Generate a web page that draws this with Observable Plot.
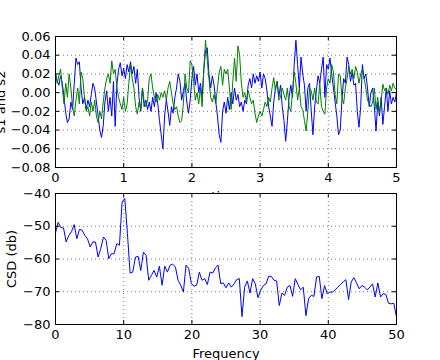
<!DOCTYPE html>
<html>
<head>
<meta charset="utf-8">
<script src="https://cdn.jsdelivr.net/npm/d3@7"></script>
<script src="https://cdn.jsdelivr.net/npm/@observablehq/plot@0.6"></script>
<style>
  html, body { margin: 0; padding: 0; background: white; }
  #chart { position: relative; width: 440px; height: 360px; background: white; }
  #chart svg { position: absolute; left: 0; top: 0; }
</style>
</head>
<body>
<div id="chart"></div>
<script>
// ---- Top panel: time signals s1 (blue) and s2 (green) ----
const time = [0.000,0.025,0.050,0.075,0.100,0.125,0.150,0.175,0.200,0.225,0.250,0.275,0.300,0.325,0.350,0.375,0.400,0.425,0.450,0.475,0.500,0.525,0.550,0.575,0.600,0.625,0.650,0.675,0.700,0.725,0.750,0.775,0.800,0.825,0.850,0.875,0.900,0.925,0.950,0.975,1.000,1.025,1.050,1.075,1.100,1.125,1.150,1.175,1.200,1.225,1.250,1.275,1.300,1.325,1.350,1.375,1.400,1.425,1.450,1.475,1.500,1.525,1.550,1.575,1.600,1.625,1.650,1.675,1.700,1.725,1.750,1.775,1.800,1.825,1.850,1.875,1.900,1.925,1.950,1.975,2.000,2.025,2.050,2.075,2.100,2.125,2.150,2.175,2.200,2.225,2.250,2.275,2.300,2.325,2.350,2.375,2.400,2.425,2.450,2.475,2.500,2.525,2.550,2.575,2.600,2.625,2.650,2.675,2.700,2.725,2.750,2.775,2.800,2.825,2.850,2.875,2.900,2.925,2.950,2.975,3.000,3.025,3.050,3.075,3.100,3.125,3.150,3.175,3.200,3.225,3.250,3.275,3.300,3.325,3.350,3.375,3.400,3.425,3.450,3.475,3.500,3.525,3.550,3.575,3.600,3.625,3.650,3.675,3.700,3.725,3.750,3.775,3.800,3.825,3.850,3.875,3.900,3.925,3.950,3.975,4.000,4.025,4.050,4.075,4.100,4.125,4.150,4.175,4.200,4.225,4.250,4.275,4.300,4.325,4.350,4.375,4.400,4.425,4.450,4.475,4.500,4.525,4.550,4.575,4.600,4.625,4.650,4.675,4.700,4.725,4.750,4.775,4.800,4.825,4.850,4.875,4.900,4.925,4.950,4.975,5.000];

const s1 = [0.020,0.012,0.008,0.018,0.010,-0.005,-0.022,-0.032,-0.028,-0.010,-0.018,0.010,0.037,0.030,0.033,0.005,-0.012,-0.005,-0.018,-0.008,-0.015,-0.002,0.010,0.004,-0.010,-0.025,-0.040,-0.048,-0.035,-0.010,0.002,-0.020,-0.005,-0.025,0.012,-0.036,0.008,0.025,0.032,0.018,0.026,0.015,0.030,0.022,0.033,0.020,0.028,0.010,0.025,-0.005,-0.020,0.005,-0.015,-0.008,-0.018,-0.010,-0.020,-0.005,-0.015,0.000,-0.012,-0.030,-0.045,-0.060,-0.025,-0.008,-0.020,-0.035,-0.015,-0.022,-0.005,0.005,0.020,0.012,-0.008,0.002,0.010,-0.010,-0.022,-0.008,0.015,0.028,0.008,0.020,0.000,0.010,-0.005,0.025,0.045,0.048,0.020,0.005,0.018,0.008,-0.010,-0.025,-0.045,-0.053,-0.020,-0.010,-0.022,-0.005,-0.018,0.000,-0.012,0.005,-0.008,-0.002,-0.015,-0.010,-0.020,-0.008,-0.012,0.008,0.015,0.005,0.020,0.010,0.018,0.012,0.022,0.005,0.020,0.015,0.002,-0.015,-0.025,-0.036,-0.010,0.005,0.012,-0.005,0.008,-0.015,-0.030,-0.052,-0.030,-0.005,0.008,-0.005,0.030,0.056,0.030,0.005,0.038,0.020,0.008,-0.020,0.005,0.010,-0.020,-0.045,-0.015,0.002,0.018,0.010,0.025,0.038,-0.005,0.030,0.025,0.037,0.020,0.005,-0.010,-0.025,-0.045,-0.040,-0.008,0.015,0.010,0.038,0.030,0.012,0.022,0.008,0.010,-0.020,-0.037,-0.015,0.030,0.015,0.020,0.005,-0.015,0.000,0.005,-0.015,-0.041,-0.010,-0.025,-0.005,-0.034,-0.015,0.005,-0.020,0.002,-0.012,-0.005,-0.010,0.000];

const s2 = [0.022,0.010,0.018,0.025,0.005,-0.012,0.010,-0.005,0.020,0.005,-0.015,-0.025,-0.008,0.005,-0.012,0.022,0.015,-0.005,-0.020,-0.015,-0.025,-0.010,-0.020,-0.008,-0.025,-0.032,-0.020,-0.028,-0.010,0.005,0.015,0.020,0.010,0.034,0.020,0.025,0.005,-0.005,-0.012,-0.018,-0.005,-0.020,-0.012,0.010,0.030,0.015,0.005,-0.015,-0.023,-0.010,-0.018,0.005,-0.010,-0.015,-0.008,0.015,0.020,0.005,-0.005,-0.010,-0.002,-0.008,0.000,-0.005,0.002,-0.008,0.005,0.012,0.000,-0.012,-0.018,-0.015,-0.025,-0.032,-0.030,-0.012,0.020,0.005,0.000,0.034,0.030,0.012,-0.008,0.000,-0.012,0.005,-0.015,0.025,0.056,0.035,0.015,-0.005,-0.010,-0.002,-0.012,0.005,0.022,0.028,0.008,0.025,0.020,0.025,0.005,-0.018,0.012,0.037,0.012,0.050,0.040,0.010,-0.005,0.000,-0.010,0.002,-0.005,-0.012,-0.008,-0.022,-0.032,-0.025,-0.020,-0.025,-0.018,-0.010,-0.015,-0.005,-0.010,0.005,0.016,0.002,0.012,-0.008,-0.005,0.005,-0.002,-0.008,0.005,-0.015,-0.020,0.000,0.022,0.010,-0.008,0.005,-0.015,-0.018,-0.030,-0.041,-0.020,0.005,0.002,-0.008,0.005,-0.010,-0.012,0.010,-0.015,-0.020,-0.023,0.005,0.015,0.010,0.030,0.022,-0.002,-0.012,0.020,0.018,-0.005,-0.012,0.005,0.015,0.028,0.020,0.025,0.015,0.028,0.022,0.010,0.020,0.025,0.015,0.005,-0.008,-0.012,-0.015,-0.010,0.005,-0.018,-0.005,-0.022,-0.008,0.009,0.002,0.005,-0.002,0.008,0.002,0.010,0.005,0.003];

const timeTicks = [0, 1, 2, 3, 4, 5];
const signalTicks = [-0.08, -0.06, -0.04, -0.02, 0.00, 0.02, 0.04, 0.06];

// ---- Bottom panel: cross spectral density (dB), 129 bins from 0 to 50 Hz ----
const csdDb = [-52.0,-48.8,-50.4,-50.5,-54.8,-52.8,-51.7,-49.5,-53.8,-51.0,-51.2,-52.8,-53.8,-56.3,-54.8,-54.8,-59.4,-56.8,-53.3,-54.3,-59.9,-58.4,-58.4,-55.3,-55.8,-42.6,-41.5,-52.2,-64.3,-64.0,-59.4,-59.2,-63.5,-57.9,-58.9,-66.5,-65.0,-63.5,-65.5,-62.2,-68.0,-62.2,-64.0,-61.9,-61.6,-62.4,-66.5,-68.0,-70.1,-61.9,-62.9,-67.5,-68.3,-68.0,-64.0,-66.5,-66.0,-67.8,-64.0,-64.3,-62.7,-61.9,-67.5,-67.3,-68.8,-67.3,-68.6,-67.6,-66.3,-66.0,-77.6,-68.6,-66.7,-70.4,-66.0,-67.6,-71.8,-69.6,-68.1,-67.6,-65.3,-65.3,-66.5,-66.7,-74.2,-70.4,-71.1,-68.6,-68.1,-71.4,-66.0,-67.8,-69.4,-68.6,-77.3,-72.1,-71.1,-71.4,-65.5,-65.3,-72.1,-68.1,-70.6,-70.1,-70.1,-69.4,-68.6,-67.8,-67.0,-66.3,-72.4,-67.0,-65.7,-67.3,-69.1,-68.1,-68.6,-69.4,-68.6,-67.6,-71.6,-67.3,-71.6,-70.6,-70.8,-73.5,-73.7,-73.5,-77.8];
const freqStep = 100 / 256;
const freqTicks = [0, 10, 20, 30, 40, 50];
const csdTicks = [-80, -70, -60, -50, -40];

const signals = time.map((t, i) => ({t, s1: s1[i], s2: s2[i]}));
const csd = csdDb.map((v, i) => ({f: i * freqStep, db: v}));

const W = 440, H = 360;
const font = {fontFamily: "'DejaVu Sans', sans-serif", fontSize: "13px", background: "transparent", overflow: "visible", color: "black"};
const gridStyle = {stroke: "black", strokeOpacity: 0.75, strokeWidth: 0.7, strokeDasharray: "1,3"};

function panel({top, bottom, xDomain, yDomain, xTicks, yTicks, yFormat, marks, xLabel, yLabel, yLabelDx, coverFrame}) {
  const innerH = H - top - bottom, innerW = W - 55 - 44;
  const interiorX = xTicks.slice(1, -1), interiorY = yTicks.slice(1, -1);
  return Plot.plot({
    width: W, height: H,
    marginLeft: 55, marginRight: 44, marginTop: top, marginBottom: bottom,
    style: font,
    x: {domain: xDomain},
    y: {domain: yDomain},
    marks: [
      coverFrame ? Plot.frame({fill: "white", stroke: null}) : null,
      Plot.gridX(interiorX, {...gridStyle}),
      Plot.gridY(interiorY, {...gridStyle}),
      ...marks,
      // inward tick marks on all four sides
      Plot.ruleX(interiorX, {insetTop: innerH - 4, stroke: "black"}),
      Plot.ruleX(interiorX, {insetBottom: innerH - 4, stroke: "black"}),
      Plot.ruleY(interiorY, {insetLeft: innerW - 4, stroke: "black"}),
      Plot.ruleY(interiorY, {insetRight: innerW - 4, stroke: "black"}),
      Plot.frame({stroke: "black", strokeWidth: 1}),
      Plot.axisX(xTicks, {anchor: "bottom", tickSize: 0, tickPadding: 5, tickFormat: d => String(d), label: null, fill: "black"}),
      Plot.axisY(yTicks, {anchor: "left", tickSize: 0, tickPadding: 5, tickFormat: yFormat, label: null, fill: "black"}),
      Plot.text([xLabel], {frameAnchor: "bottom", dy: 33, lineAnchor: "bottom", fill: "black"}),
      Plot.text([yLabel], {frameAnchor: "left", dx: yLabelDx, rotate: -90, lineAnchor: "bottom", textAnchor: "middle", fill: "black"})
    ]
  });
}

const topPlot = panel({
  top: 36, bottom: 193,
  xDomain: [0, 5], yDomain: [-0.08, 0.06],
  xTicks: timeTicks, yTicks: signalTicks, yFormat: d3.format(".2f"),
  marks: [
    Plot.line(signals, {x: "t", y: "s1", stroke: "#0000ff", strokeWidth: 1, clip: true}),
    Plot.line(signals, {x: "t", y: "s2", stroke: "#008000", strokeWidth: 1, clip: true})
  ],
  xLabel: "time", yLabel: "s1 and s2", yLabelDx: -51, coverFrame: false
});

const bottomPlot = panel({
  top: 193, bottom: 36,
  xDomain: [0, 50], yDomain: [-80, -40],
  xTicks: freqTicks, yTicks: csdTicks, yFormat: d3.format("d"),
  marks: [
    Plot.line(csd, {x: "f", y: "db", stroke: "#0000ff", strokeWidth: 1, clip: true})
  ],
  xLabel: "Frequency", yLabel: "CSD (db)", yLabelDx: -40, coverFrame: true
});

const chart = document.getElementById("chart");
chart.append(topPlot, bottomPlot);
</script>
</body>
</html>
